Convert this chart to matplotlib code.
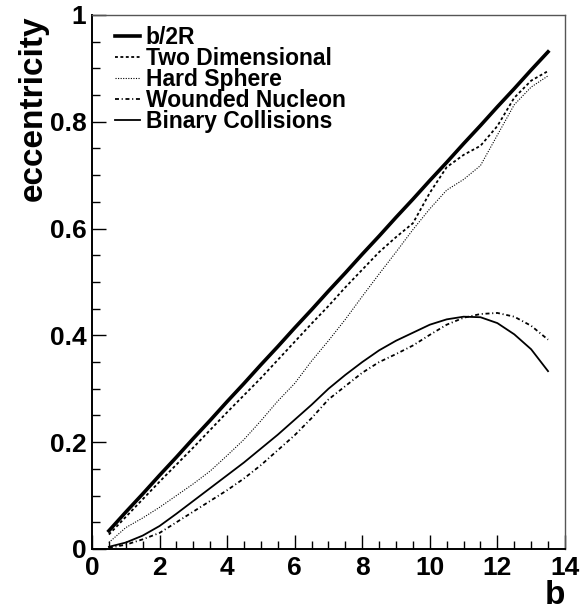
import numpy as np
import matplotlib
matplotlib.use("Agg")
import matplotlib.pyplot as plt
from matplotlib.ticker import MultipleLocator, FuncFormatter

# impact parameter b (fm)
b = [0.5, 1.0, 1.5, 2.0, 2.5, 3.0, 3.5, 4.0, 4.5, 5.0, 5.5, 6.0, 6.5, 7.0,
     7.5, 8.0, 8.5, 9.0, 9.5, 10.0, 10.5, 11.0, 11.5, 12.0, 12.5, 13.0, 13.5]

b_over_2R = [0.034, 0.069, 0.103, 0.138, 0.172, 0.207, 0.241, 0.276, 0.310,
             0.345, 0.379, 0.414, 0.448, 0.483, 0.517, 0.552, 0.586, 0.621,
             0.655, 0.690, 0.724, 0.759, 0.793, 0.828, 0.862, 0.897, 0.931]

two_dim = [0.027, 0.060, 0.093, 0.126, 0.158, 0.190, 0.223, 0.256, 0.288,
           0.320, 0.354, 0.388, 0.422, 0.455, 0.490, 0.523, 0.556, 0.584,
           0.610, 0.667, 0.715, 0.738, 0.755, 0.792, 0.845, 0.877, 0.895]

hard_sphere = [0.012, 0.040, 0.058, 0.078, 0.100, 0.122, 0.146, 0.175, 0.205,
               0.240, 0.277, 0.310, 0.352, 0.390, 0.430, 0.473, 0.515, 0.556,
               0.598, 0.637, 0.672, 0.692, 0.718, 0.775, 0.832, 0.865, 0.886]

wounded = [0.002, 0.008, 0.018, 0.030, 0.050, 0.070, 0.090, 0.110, 0.132,
           0.157, 0.185, 0.213, 0.245, 0.280, 0.305, 0.330, 0.350, 0.365,
           0.381, 0.401, 0.420, 0.433, 0.440, 0.442, 0.435, 0.418, 0.392]

binary = [0.004, 0.012, 0.025, 0.043, 0.066, 0.090, 0.114, 0.138, 0.162,
          0.188, 0.214, 0.242, 0.270, 0.300, 0.326, 0.350, 0.372, 0.390,
          0.405, 0.420, 0.430, 0.435, 0.434, 0.423, 0.402, 0.374, 0.333]

plt.rcParams['font.family'] = ['Liberation Sans', 'DejaVu Sans']
plt.rcParams['font.weight'] = 'bold'

fig = plt.figure(figsize=(5.8, 6.12), dpi=100)
ax = fig.add_axes([0.1586, 0.103, 0.8154, 0.8725])

ax.plot(b, b_over_2R, color='black', lw=2.6, label='b/2R')
ax.plot(b, two_dim, color='black', lw=1.3, dashes=(1.6, 1.4), label='Two Dimensional')
ax.plot(b, hard_sphere, color='black', lw=0.8, dashes=(1.0, 1.3), label='Hard Sphere')
ax.plot(b, wounded, color='black', lw=1.3, dashes=(2.2, 1.5, 0.6, 1.5), label='Wounded Nucleon')
ax.plot(b, binary, color='black', lw=1.3, label='Binary Collisions')

ax.set_xlim(0, 14)
ax.set_ylim(0, 1)

ax.xaxis.set_major_locator(MultipleLocator(2))
ax.xaxis.set_minor_locator(MultipleLocator(0.5))
ax.yaxis.set_major_locator(MultipleLocator(0.2))
ax.yaxis.set_minor_locator(MultipleLocator(0.05))
fmt = FuncFormatter(lambda v, p: f"{v:g}")
ax.xaxis.set_major_formatter(fmt)
ax.yaxis.set_major_formatter(fmt)

ax.tick_params(which='both', direction='in', top=False, right=False, width=1.0)
ax.tick_params(which='major', length=10, labelsize=19)
ax.tick_params(which='minor', length=5.5)
ax.tick_params(axis='x', pad=5)
ax.tick_params(axis='y', pad=4)

for side in ['left', 'bottom']:
    ax.spines[side].set_linewidth(1.4)
for side in ['top', 'right']:
    ax.spines[side].set_linewidth(1.0)
    ax.spines[side].set_color('#555555')

ax.set_ylabel('eccentricity', fontsize=24, fontweight='bold', loc='top', labelpad=1)
ax.set_xlabel('b', fontsize=24, fontweight='bold', loc='right')
ax.xaxis.set_label_coords(1.0, -0.058)

ax.legend(loc='upper left', bbox_to_anchor=(0.048, 0.979), frameon=False,
          handlelength=1.1, handletextpad=0.25, labelspacing=-0.09,
          borderpad=0, borderaxespad=0,
          prop={'weight': 'bold', 'size': 16.5})

fig.savefig('out.png', dpi=100)
